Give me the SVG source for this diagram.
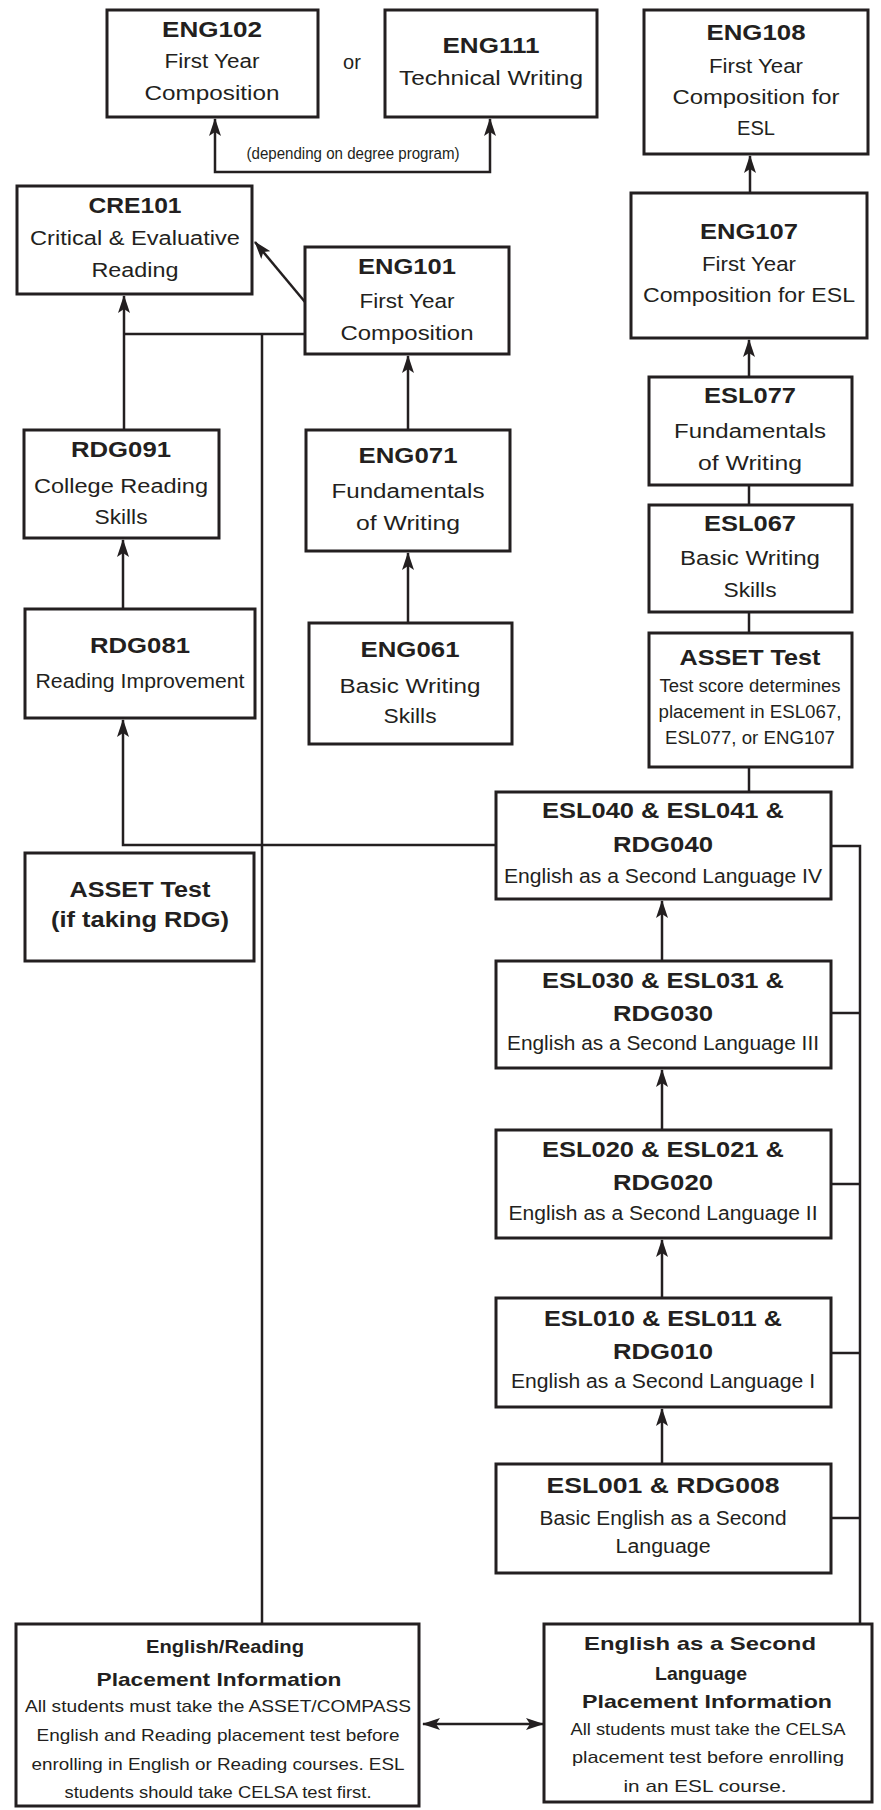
<svg xmlns="http://www.w3.org/2000/svg" width="881" height="1810" viewBox="0 0 881 1810">
<style>
.box{fill:#fff;stroke:#231f20;stroke-width:3}
.ln{fill:none;stroke:#231f20;stroke-width:2.5}
text{font-family:"Liberation Sans",Arial,sans-serif;fill:#231f20;text-anchor:middle}
.b{font-weight:bold;font-size:22px}
.r{font-size:20px}
.s{font-size:18px}
.pb{font-weight:bold;font-size:19px}
.ps{font-size:17px}
.c{font-size:16px}
</style>
<defs>
<marker id="ah" viewBox="0 0 18 12" refX="17" refY="6" markerWidth="18" markerHeight="12" markerUnits="userSpaceOnUse" orient="auto-start-reverse">
<path d="M0,0 L18,6 L0,12 L4,6 z" fill="#231f20"/>
</marker>
</defs>
<rect width="881" height="1810" fill="#fff"/>
<g id="connectors">
<path class="ln" d="M215,119 L215,172 L490,172 L490,119" marker-start="url(#ah)" marker-end="url(#ah)"/>
<path class="ln" d="M750,193 L750,156" marker-end="url(#ah)"/>
<path class="ln" d="M749,377 L749,340" marker-end="url(#ah)"/>
<path class="ln" d="M749,485 L749,505"/>
<path class="ln" d="M749,612 L749,633"/>
<path class="ln" d="M749,767 L749,792"/>
<path class="ln" d="M305,302 L255,242" marker-end="url(#ah)"/>
<path class="ln" d="M124,430 L124,296" marker-end="url(#ah)"/>
<path class="ln" d="M124,334 L305,334"/>
<path class="ln" d="M262,334 L262,1624"/>
<path class="ln" d="M408,430 L408,356" marker-end="url(#ah)"/>
<path class="ln" d="M408,623 L408,553" marker-end="url(#ah)"/>
<path class="ln" d="M123,609 L123,540" marker-end="url(#ah)"/>
<path class="ln" d="M496,845 L123,845 L123,720" marker-end="url(#ah)"/>
<path class="ln" d="M831,846 L860,846 L860,1624"/>
<path class="ln" d="M831,1013 L860,1013"/>
<path class="ln" d="M831,1184 L860,1184"/>
<path class="ln" d="M831,1353 L860,1353"/>
<path class="ln" d="M831,1518 L860,1518"/>
<path class="ln" d="M662,961 L662,901" marker-end="url(#ah)"/>
<path class="ln" d="M662,1130 L662,1070" marker-end="url(#ah)"/>
<path class="ln" d="M662,1298 L662,1240" marker-end="url(#ah)"/>
<path class="ln" d="M662,1464 L662,1409" marker-end="url(#ah)"/>
<path class="ln" d="M423,1724 L543,1724" marker-start="url(#ah)" marker-end="url(#ah)"/>
<text class="c" x="353" y="159" textLength="213" lengthAdjust="spacingAndGlyphs">(depending on degree program)</text>
<text class="r" x="352" y="69">or</text>
</g>
<g id="eng102">
<rect class="box" x="107" y="10" width="211" height="107"/>
<text class="b" x="212" y="37" textLength="100" lengthAdjust="spacingAndGlyphs">ENG102</text>
<text class="r" x="212" y="68" textLength="95" lengthAdjust="spacingAndGlyphs">First Year</text>
<text class="r" x="212" y="100" textLength="135" lengthAdjust="spacingAndGlyphs">Composition</text>
</g>
<g id="eng111">
<rect class="box" x="385" y="10" width="212" height="107"/>
<text class="b" x="491" y="53" textLength="97" lengthAdjust="spacingAndGlyphs">ENG111</text>
<text class="r" x="491" y="85" textLength="184" lengthAdjust="spacingAndGlyphs">Technical Writing</text>
</g>
<g id="eng108">
<rect class="box" x="644" y="10" width="224" height="144"/>
<text class="b" x="756" y="40" textLength="99" lengthAdjust="spacingAndGlyphs">ENG108</text>
<text class="r" x="756" y="73" textLength="94" lengthAdjust="spacingAndGlyphs">First Year</text>
<text class="r" x="756" y="104" textLength="167" lengthAdjust="spacingAndGlyphs">Composition for</text>
<text class="r" x="756" y="135" textLength="38" lengthAdjust="spacingAndGlyphs">ESL</text>
</g>
<g id="eng107">
<rect class="box" x="631" y="193" width="236" height="145"/>
<text class="b" x="749" y="239" textLength="98" lengthAdjust="spacingAndGlyphs">ENG107</text>
<text class="r" x="749" y="271" textLength="94" lengthAdjust="spacingAndGlyphs">First Year</text>
<text class="r" x="749" y="302" textLength="212" lengthAdjust="spacingAndGlyphs">Composition for ESL</text>
</g>
<g id="cre101">
<rect class="box" x="17" y="186" width="235" height="108"/>
<text class="b" x="135" y="213" textLength="93" lengthAdjust="spacingAndGlyphs">CRE101</text>
<text class="r" x="135" y="245" textLength="210" lengthAdjust="spacingAndGlyphs">Critical &amp; Evaluative</text>
<text class="r" x="135" y="277" textLength="87" lengthAdjust="spacingAndGlyphs">Reading</text>
</g>
<g id="eng101">
<rect class="box" x="305" y="247" width="204" height="107"/>
<text class="b" x="407" y="274" textLength="98" lengthAdjust="spacingAndGlyphs">ENG101</text>
<text class="r" x="407" y="308" textLength="95" lengthAdjust="spacingAndGlyphs">First Year</text>
<text class="r" x="407" y="340" textLength="133" lengthAdjust="spacingAndGlyphs">Composition</text>
</g>
<g id="rdg091">
<rect class="box" x="24" y="430" width="195" height="108"/>
<text class="b" x="121" y="457" textLength="100" lengthAdjust="spacingAndGlyphs">RDG091</text>
<text class="r" x="121" y="493" textLength="174" lengthAdjust="spacingAndGlyphs">College Reading</text>
<text class="r" x="121" y="524" textLength="53" lengthAdjust="spacingAndGlyphs">Skills</text>
</g>
<g id="eng071">
<rect class="box" x="306" y="430" width="204" height="121"/>
<text class="b" x="408" y="463" textLength="99" lengthAdjust="spacingAndGlyphs">ENG071</text>
<text class="r" x="408" y="498" textLength="153" lengthAdjust="spacingAndGlyphs">Fundamentals</text>
<text class="r" x="408" y="530" textLength="104" lengthAdjust="spacingAndGlyphs">of Writing</text>
</g>
<g id="rdg081">
<rect class="box" x="25" y="609" width="230" height="109"/>
<text class="b" x="140" y="653" textLength="100" lengthAdjust="spacingAndGlyphs">RDG081</text>
<text class="r" x="140" y="688" textLength="209" lengthAdjust="spacingAndGlyphs">Reading Improvement</text>
</g>
<g id="eng061">
<rect class="box" x="309" y="623" width="203" height="121"/>
<text class="b" x="410" y="657" textLength="99" lengthAdjust="spacingAndGlyphs">ENG061</text>
<text class="r" x="410" y="693" textLength="141" lengthAdjust="spacingAndGlyphs">Basic Writing</text>
<text class="r" x="410" y="723" textLength="53" lengthAdjust="spacingAndGlyphs">Skills</text>
</g>
<g id="esl077">
<rect class="box" x="649" y="377" width="203" height="108"/>
<text class="b" x="750" y="403" textLength="92" lengthAdjust="spacingAndGlyphs">ESL077</text>
<text class="r" x="750" y="438" textLength="152" lengthAdjust="spacingAndGlyphs">Fundamentals</text>
<text class="r" x="750" y="470" textLength="104" lengthAdjust="spacingAndGlyphs">of Writing</text>
</g>
<g id="esl067">
<rect class="box" x="649" y="505" width="203" height="107"/>
<text class="b" x="750" y="531" textLength="92" lengthAdjust="spacingAndGlyphs">ESL067</text>
<text class="r" x="750" y="565" textLength="140" lengthAdjust="spacingAndGlyphs">Basic Writing</text>
<text class="r" x="750" y="597" textLength="53" lengthAdjust="spacingAndGlyphs">Skills</text>
</g>
<g id="asset-esl">
<rect class="box" x="649" y="633" width="203" height="134"/>
<text class="b" x="750" y="665" textLength="141" lengthAdjust="spacingAndGlyphs">ASSET Test</text>
<text class="s" x="750" y="692" textLength="181" lengthAdjust="spacingAndGlyphs">Test score determines</text>
<text class="s" x="750" y="718" textLength="183" lengthAdjust="spacingAndGlyphs">placement in ESL067,</text>
<text class="s" x="750" y="744" textLength="170" lengthAdjust="spacingAndGlyphs">ESL077, or ENG107</text>
</g>
<g id="esl040">
<rect class="box" x="496" y="792" width="335" height="107"/>
<text class="b" x="663" y="818" textLength="242" lengthAdjust="spacingAndGlyphs">ESL040 &amp; ESL041 &amp;</text>
<text class="b" x="663" y="852" textLength="100" lengthAdjust="spacingAndGlyphs">RDG040</text>
<text class="r" x="663" y="883" textLength="318" lengthAdjust="spacingAndGlyphs">English as a Second Language IV</text>
</g>
<g id="asset-rdg">
<rect class="box" x="25" y="853" width="229" height="108"/>
<text class="b" x="140" y="897" textLength="141" lengthAdjust="spacingAndGlyphs">ASSET Test</text>
<text class="b" x="140" y="927" textLength="178" lengthAdjust="spacingAndGlyphs">(if taking RDG)</text>
</g>
<g id="esl030">
<rect class="box" x="496" y="961" width="335" height="107"/>
<text class="b" x="663" y="988" textLength="242" lengthAdjust="spacingAndGlyphs">ESL030 &amp; ESL031 &amp;</text>
<text class="b" x="663" y="1021" textLength="100" lengthAdjust="spacingAndGlyphs">RDG030</text>
<text class="r" x="663" y="1050" textLength="312" lengthAdjust="spacingAndGlyphs">English as a Second Language III</text>
</g>
<g id="esl020">
<rect class="box" x="496" y="1130" width="335" height="108"/>
<text class="b" x="663" y="1157" textLength="242" lengthAdjust="spacingAndGlyphs">ESL020 &amp; ESL021 &amp;</text>
<text class="b" x="663" y="1190" textLength="100" lengthAdjust="spacingAndGlyphs">RDG020</text>
<text class="r" x="663" y="1220" textLength="309" lengthAdjust="spacingAndGlyphs">English as a Second Language II</text>
</g>
<g id="esl010">
<rect class="box" x="496" y="1298" width="335" height="109"/>
<text class="b" x="663" y="1326" textLength="238" lengthAdjust="spacingAndGlyphs">ESL010 &amp; ESL011 &amp;</text>
<text class="b" x="663" y="1359" textLength="100" lengthAdjust="spacingAndGlyphs">RDG010</text>
<text class="r" x="663" y="1388" textLength="304" lengthAdjust="spacingAndGlyphs">English as a Second Language I</text>
</g>
<g id="esl001">
<rect class="box" x="496" y="1464" width="335" height="109"/>
<text class="b" x="663" y="1493" textLength="233" lengthAdjust="spacingAndGlyphs">ESL001 &amp; RDG008</text>
<text class="r" x="663" y="1525" textLength="247" lengthAdjust="spacingAndGlyphs">Basic English as a Second</text>
<text class="r" x="663" y="1553" textLength="95" lengthAdjust="spacingAndGlyphs">Language</text>
</g>
<g id="placement-eng">
<rect class="box" x="16" y="1624" width="403" height="182"/>
<text class="pb" x="225" y="1653" textLength="158" lengthAdjust="spacingAndGlyphs">English/Reading</text>
<text class="pb" x="219" y="1686" textLength="245" lengthAdjust="spacingAndGlyphs">Placement Information</text>
<text class="ps" x="218" y="1712" textLength="386" lengthAdjust="spacingAndGlyphs">All students must take the ASSET/COMPASS</text>
<text class="ps" x="218" y="1741" textLength="363" lengthAdjust="spacingAndGlyphs">English and Reading placement test before</text>
<text class="ps" x="218" y="1770" textLength="373" lengthAdjust="spacingAndGlyphs">enrolling in English or Reading courses.  ESL</text>
<text class="ps" x="218" y="1798" textLength="307" lengthAdjust="spacingAndGlyphs">students should take CELSA test first.</text>
</g>
<g id="placement-esl">
<rect class="box" x="544" y="1624" width="328" height="178"/>
<text class="pb" x="700" y="1650" textLength="232" lengthAdjust="spacingAndGlyphs">English as a Second</text>
<text class="pb" x="701" y="1680" textLength="92" lengthAdjust="spacingAndGlyphs">Language</text>
<text class="pb" x="707" y="1708" textLength="250" lengthAdjust="spacingAndGlyphs">Placement Information</text>
<text class="ps" x="708" y="1735" textLength="275" lengthAdjust="spacingAndGlyphs">All students must take the CELSA</text>
<text class="ps" x="708" y="1763" textLength="272" lengthAdjust="spacingAndGlyphs">placement test before enrolling</text>
<text class="ps" x="705" y="1792" textLength="163" lengthAdjust="spacingAndGlyphs">in an ESL course.</text>
</g>
</svg>
